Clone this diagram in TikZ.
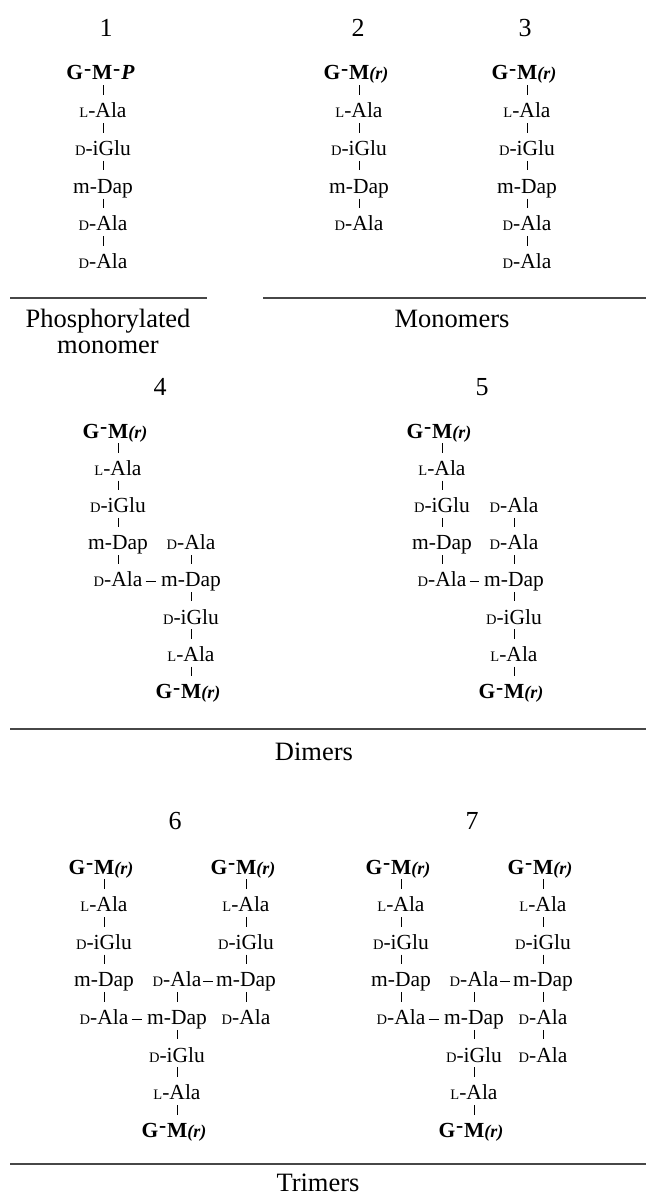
\documentclass[tikz,border=0pt]{standalone}
\usepackage{fontspec}
\setmainfont{Liberation Serif}
% small-capital prefixes of the amino-acid names
\newcommand{\scL}{{\fontsize{14.5}{14.5}\selectfont L}}
\newcommand{\scD}{{\fontsize{14.5}{14.5}\selectfont D}}
% raised bond between sugar units
\newcommand{\sbond}{\kern.04em\raisebox{.2em}{-}\kern.04em}
\newcommand{\GMr}{\textbf{G\sbond M}{\fontsize{18}{18}\selectfont\bfseries\itshape (r)}}
\newcommand{\GMP}{\textbf{G\sbond M\sbond\itshape P}}
\newcommand{\LAla}{\scL-Ala}
\newcommand{\DAla}{\scD-Ala}
\newcommand{\DiGlu}{\scD-iGlu}
\newcommand{\mDap}{m-Dap}
\tikzset{
  res/.style={font=\fontsize{21.5}{21.5}\selectfont, inner sep=0pt, text height=14pt, text depth=0pt},
  num/.style={font=\fontsize{26}{26}\selectfont, inner sep=0pt, text height=17.6pt, text depth=0pt},
  lab/.style={font=\fontsize{26.5}{26.5}\selectfont, inner sep=0pt, text height=17.5pt, text depth=0pt},
  vb/.style={line width=0.9pt, shorten <=5.2pt, shorten >=8.5pt},
  hb/.style={line width=0.9pt, shorten <=3pt, shorten >=5pt},
  hbtight/.style={line width=0.9pt, shorten <=1.5pt, shorten >=2.5pt},
  rulel/.style={line width=2pt, black!72},
}
\begin{document}
\begin{tikzpicture}[x=1pt,y=-1pt]
\useasboundingbox (0,0) rectangle (646,1196);

% ---------------- monomers ----------------
\node[num] (n1) at (106,28) {1};
\node[num] (n2) at (358,28) {2};
\node[num] (n3) at (525,28) {3};

% 1: phosphorylated monomer
\node[res] (a0) at (100.5,73) {\GMP};
\node[res] (a1) at (103,110.7) {\LAla};
\node[res] (a2) at (103,148.4) {\DiGlu};
\node[res] (a3) at (103,186.1) {\mDap};
\node[res] (a4) at (103,223.8) {\DAla};
\node[res] (a5) at (103,261.5) {\DAla};
\draw[vb] (a0.south -| a1.north) -- (a1.north);
\foreach \u/\v in {a1/a2,a2/a3,a3/a4,a4/a5} \draw[vb] (\u.south) -- (\v.north);

% 2: tetrapeptide monomer
\node[res] (b0) at (356,73) {\GMr};
\node[res] (b1) at (359,110.7) {\LAla};
\node[res] (b2) at (359,148.4) {\DiGlu};
\node[res] (b3) at (359,186.1) {\mDap};
\node[res] (b4) at (359,223.8) {\DAla};
\draw[vb] (b0.south -| b1.north) -- (b1.north);
\foreach \u/\v in {b1/b2,b2/b3,b3/b4} \draw[vb] (\u.south) -- (\v.north);

% 3: pentapeptide monomer
\node[res] (c0) at (524,73) {\GMr};
\node[res] (c1) at (527,110.7) {\LAla};
\node[res] (c2) at (527,148.4) {\DiGlu};
\node[res] (c3) at (527,186.1) {\mDap};
\node[res] (c4) at (527,223.8) {\DAla};
\node[res] (c5) at (527,261.5) {\DAla};
\draw[vb] (c0.south -| c1.north) -- (c1.north);
\foreach \u/\v in {c1/c2,c2/c3,c3/c4,c4/c5} \draw[vb] (\u.south) -- (\v.north);

\draw[rulel] (10,297.5) -- (207,297.5);
\draw[rulel] (263,297.5) -- (646,297.5);
\node[lab] (t1a) at (108,319) {Phosphorylated};
\node[lab] (t1b) at (108,345) {monomer};
\node[lab] (t2) at (452,319) {Monomers};

% ---------------- dimers ----------------
\node[num] (n4) at (160,387) {4};
\node[num] (n5) at (482,387) {5};

% 4
\node[res] (d0) at (115,431) {\GMr};
\node[res] (d1) at (118,468.2) {\LAla};
\node[res] (d2) at (118,505.4) {\DiGlu};
\node[res] (d3) at (118,542.6) {\mDap};
\node[res] (d4) at (118,579.8) {\DAla};
\node[res] (e0) at (191,542.6) {\DAla};
\node[res] (e1) at (191,579.8) {\mDap};
\node[res] (e2) at (191,617) {\DiGlu};
\node[res] (e3) at (191,654.2) {\LAla};
\node[res] (e4) at (188,691.4) {\GMr};
\draw[vb] (d0.south -| d1.north) -- (d1.north);
\foreach \u/\v in {d1/d2,d2/d3,d3/d4,e0/e1,e1/e2,e2/e3} \draw[vb] (\u.south) -- (\v.north);
\draw[vb] (e3.south) -- (e3.south |- e4.north);
\draw[hb] ([yshift=-1.75pt]d4.east) -- ([yshift=-1.75pt]e1.west);

% 5
\node[res] (f0) at (439,431) {\GMr};
\node[res] (f1) at (442,468.2) {\LAla};
\node[res] (f2) at (442,505.4) {\DiGlu};
\node[res] (f3) at (442,542.6) {\mDap};
\node[res] (f4) at (442,579.8) {\DAla};
\node[res] (g0) at (514,505.4) {\DAla};
\node[res] (g1) at (514,542.6) {\DAla};
\node[res] (g2) at (514,579.8) {\mDap};
\node[res] (g3) at (514,617) {\DiGlu};
\node[res] (g4) at (514,654.2) {\LAla};
\node[res] (g5) at (511,691.4) {\GMr};
\draw[vb] (f0.south -| f1.north) -- (f1.north);
\foreach \u/\v in {f1/f2,f2/f3,f3/f4,g0/g1,g1/g2,g2/g3,g3/g4} \draw[vb] (\u.south) -- (\v.north);
\draw[vb] (g4.south) -- (g4.south |- g5.north);
\draw[hb] ([yshift=-1.75pt]f4.east) -- ([yshift=-1.75pt]g2.west);

\draw[rulel] (10,728.5) -- (646,728.5);
\node[lab] (t3) at (314,752) {Dimers};

% ---------------- trimers ----------------
\node[num] (n6) at (175,821) {6};
\node[num] (n7) at (472,821) {7};

% 6
\node[res] (h0) at (101,867) {\GMr};
\node[res] (h1) at (104,904.6) {\LAla};
\node[res] (h2) at (104,942.2) {\DiGlu};
\node[res] (h3) at (104,979.8) {\mDap};
\node[res] (h4) at (104,1017.4) {\DAla};
\node[res] (i0) at (177,979.8) {\DAla};
\node[res] (i1) at (177,1017.4) {\mDap};
\node[res] (i2) at (177,1055) {\DiGlu};
\node[res] (i3) at (177,1092.6) {\LAla};
\node[res] (i4) at (174,1130.2) {\GMr};
\node[res] (j0) at (243,867) {\GMr};
\node[res] (j1) at (246,904.6) {\LAla};
\node[res] (j2) at (246,942.2) {\DiGlu};
\node[res] (j3) at (246,979.8) {\mDap};
\node[res] (j4) at (246,1017.4) {\DAla};
\draw[vb] (h0.south -| h1.north) -- (h1.north);
\draw[vb] (j0.south -| j1.north) -- (j1.north);
\foreach \u/\v in {h1/h2,h2/h3,h3/h4,i0/i1,i1/i2,i2/i3,j1/j2,j2/j3,j3/j4} \draw[vb] (\u.south) -- (\v.north);
\draw[vb] (i3.south) -- (i3.south |- i4.north);
\draw[hbtight] ([yshift=-1.75pt]i0.east) -- ([yshift=-1.75pt]j3.west);
\draw[hb] ([yshift=-1.75pt]h4.east) -- ([yshift=-1.75pt]i1.west);

% 7
\node[res] (k0) at (398,867) {\GMr};
\node[res] (k1) at (401,904.6) {\LAla};
\node[res] (k2) at (401,942.2) {\DiGlu};
\node[res] (k3) at (401,979.8) {\mDap};
\node[res] (k4) at (401,1017.4) {\DAla};
\node[res] (l0) at (474,979.8) {\DAla};
\node[res] (l1) at (474,1017.4) {\mDap};
\node[res] (l2) at (474,1055) {\DiGlu};
\node[res] (l3) at (474,1092.6) {\LAla};
\node[res] (l4) at (471,1130.2) {\GMr};
\node[res] (m0) at (540,867) {\GMr};
\node[res] (m1) at (543,904.6) {\LAla};
\node[res] (m2) at (543,942.2) {\DiGlu};
\node[res] (m3) at (543,979.8) {\mDap};
\node[res] (m4) at (543,1017.4) {\DAla};
\node[res] (m5) at (543,1055) {\DAla};
\draw[vb] (k0.south -| k1.north) -- (k1.north);
\draw[vb] (m0.south -| m1.north) -- (m1.north);
\foreach \u/\v in {k1/k2,k2/k3,k3/k4,l0/l1,l1/l2,l2/l3,m1/m2,m2/m3,m3/m4,m4/m5} \draw[vb] (\u.south) -- (\v.north);
\draw[vb] (l3.south) -- (l3.south |- l4.north);
\draw[hbtight] ([yshift=-1.75pt]l0.east) -- ([yshift=-1.75pt]m3.west);
\draw[hb] ([yshift=-1.75pt]k4.east) -- ([yshift=-1.75pt]l1.west);

\draw[rulel] (10,1164) -- (646,1164);
\node[lab] (t4) at (318,1183) {Trimers};
\end{tikzpicture}
\end{document}
